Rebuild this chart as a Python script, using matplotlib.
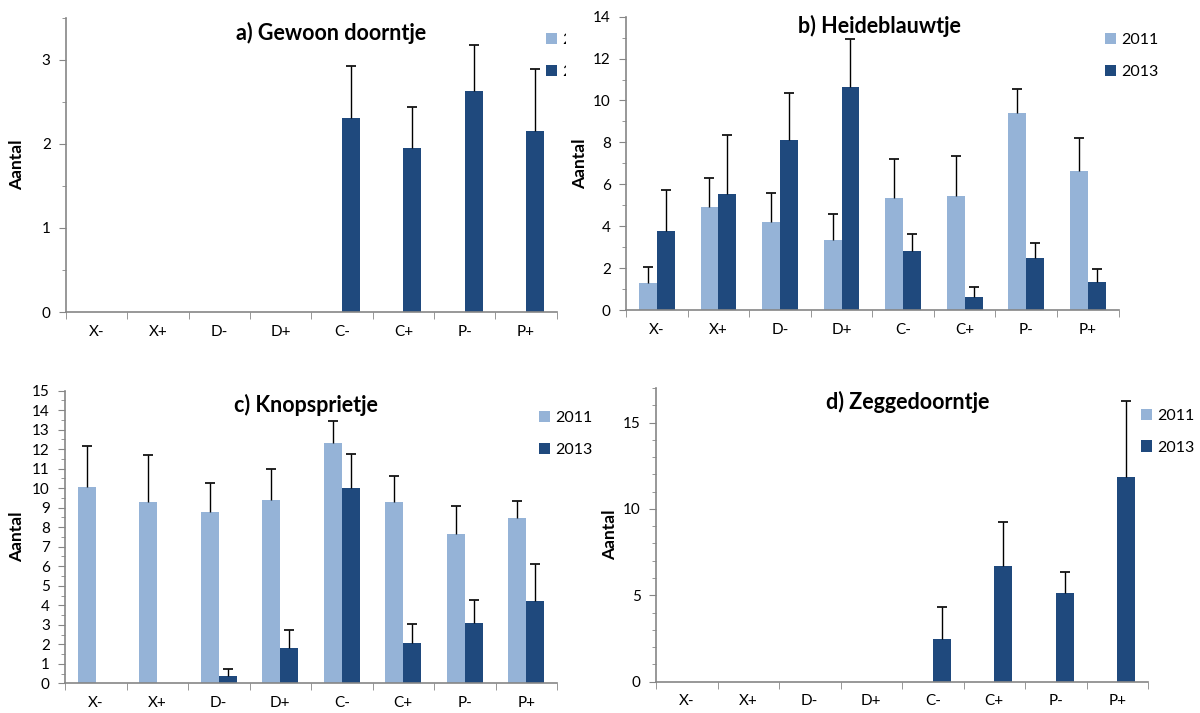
import numpy as np
import matplotlib
matplotlib.use('Agg')
import matplotlib.pyplot as plt
from matplotlib.ticker import MultipleLocator, FixedLocator
from matplotlib.transforms import Bbox, TransformedBbox

plt.rcParams['font.family'] = ['Lato', 'DejaVu Sans']

categories = ['X-', 'X+', 'D-', 'D+', 'C-', 'C+', 'P-', 'P+']
years = ['2011', '2013']

# a) Gewoon doorntje
a_2011 = [0, 0, 0, 0, 0, 0, 0, 0]
a_2011_err = [0, 0, 0, 0, 0, 0, 0, 0]
a_2013 = [0, 0, 0, 0, 2.31, 1.95, 2.63, 2.16]
a_2013_err = [0, 0, 0, 0, 2.93, 2.44, 3.18, 2.89]

# b) Heideblauwtje
b_2011 = [1.27, 4.90, 4.20, 3.36, 5.35, 5.46, 9.42, 6.62]
b_2011_err = [2.07, 6.32, 5.60, 4.60, 7.21, 7.37, 10.57, 8.21]
b_2013 = [3.76, 5.54, 8.10, 10.63, 2.82, 0.62, 2.50, 1.35]
b_2013_err = [5.75, 8.37, 10.34, 12.92, 3.61, 1.08, 3.18, 1.94]

# c) Knopsprietje
c_2011 = [10.08, 9.31, 8.78, 9.38, 12.30, 9.31, 7.65, 8.47]
c_2011_err = [12.16, 11.72, 10.29, 10.99, 13.45, 10.64, 9.07, 9.36]
c_2013 = [0, 0, 0.38, 1.81, 9.99, 2.05, 3.08, 4.22]
c_2013_err = [0, 0, 0.75, 2.72, 11.74, 3.04, 4.29, 6.13]

# d) Zeggedoorntje
d_2011 = [0, 0, 0, 0, 0, 0, 0, 0]
d_2011_err = [0, 0, 0, 0, 0, 0, 0, 0]
d_2013 = [0, 0, 0, 0, 2.47, 6.72, 5.15, 11.83]
d_2013_err = [0, 0, 0, 0, 4.31, 9.27, 6.37, 16.24]

c_light = '#95B3D7'
c_dark = '#1F497D'
axis_grey = '#868686'

panels = [
    # title, data, ylim, major, minor, axes rect, title pos, ylabel x
    ('a) Gewoon doorntje', (a_2011, a_2011_err, a_2013, a_2013_err), 3.5, 1, 0.5,
     [0.055, 0.5624, 0.409, 0.4124], (0.54, 0.95), 0.014),
    ('b) Heideblauwtje', (b_2011, b_2011_err, b_2013, b_2013_err), 14, 2, 1,
     [0.5217, 0.5652, 0.4105, 0.4114], (0.514, 0.97), 0.483),
    ('c) Knopsprietje', (c_2011, c_2011_err, c_2013, c_2013_err), 15, 1, 0.5,
     [0.0542, 0.0417, 0.41, 0.4103], (0.49, 0.953), 0.014),
    ('d) Zeggedoorntje', (d_2011, d_2011_err, d_2013, d_2013_err), 17, 5, 1,
     [0.5467, 0.0439, 0.41, 0.4119], (0.512, 0.952), 0.508),
]
legend_pos = [(0.443, 0.974), (0.909, 0.974), (0.437, 0.444), (0.939, 0.447)]

fig = plt.figure(figsize=(12, 7.13), dpi=100)
x = np.arange(len(categories))
w = 0.29

for i, (title, data, ytop, major, minor, rect, tpos, ylx) in enumerate(panels):
    v11, e11, v13, e13 = [np.array(d, dtype=float) for d in data]
    ax = fig.add_axes(rect)
    ax.bar(x - w / 2, v11, w, color=c_light, label=years[0], linewidth=0)
    ax.bar(x + w / 2, v13, w, color=c_dark, label=years[1], linewidth=0)

    # upward-only error bars with a top cap
    for xs, vals, errs in [(x - w / 2, v11, e11), (x + w / 2, v13, e13)]:
        m = errs > vals
        ax.vlines(xs[m], vals[m], errs[m], color='black', lw=1, zorder=3)
        ax.plot(xs[m], errs[m], ls='none', marker='_', ms=7, mew=1.2, color='black', zorder=3)

    ax.set_xlim(-0.5, len(categories) - 0.5)
    ax.set_ylim(0, ytop)
    ax.yaxis.set_major_locator(MultipleLocator(major))
    ax.yaxis.set_minor_locator(MultipleLocator(minor))
    ax.set_xticks(x)
    ax.set_xticklabels(categories)
    ax.xaxis.set_minor_locator(FixedLocator(np.arange(-0.5, len(categories), 1)))
    ax.tick_params(axis='x', which='major', length=0, pad=9, labelsize=11)
    ax.tick_params(axis='x', which='minor', length=5, color=axis_grey, direction='out')
    ax.tick_params(axis='y', which='major', length=5, color=axis_grey, labelsize=11, pad=6)
    ax.tick_params(axis='y', which='minor', length=3, color=axis_grey)
    for s in ['top', 'right']:
        ax.spines[s].set_visible(False)
    for s in ['left', 'bottom']:
        ax.spines[s].set_color(axis_grey)
        ax.spines[s].set_linewidth(1.2)

    ax.text(tpos[0], tpos[1], title, transform=ax.transAxes, ha='center', va='center',
            fontsize=15.5, fontweight='bold')
    fig.text(ylx, rect[1] + rect[3] / 2, 'Aantal', rotation=90, ha='center', va='center',
             fontsize=12.5, fontweight='bold')

    leg = fig.legend(*ax.get_legend_handles_labels(), loc='upper left',
                     bbox_to_anchor=legend_pos[i], frameon=False, fontsize=11.5,
                     handlelength=0.7, handleheight=0.7, handletextpad=0.3, labelspacing=1.1)
    if i == 0:
        # panel a's legend is cut off by panel b
        clip = TransformedBbox(Bbox([[0, 0], [566 / 1200, 1]]), fig.transFigure)
        for t in leg.get_texts():
            t.set_clip_box(clip)
            t.set_clip_on(True)

fig.savefig('out.png', dpi=100)
